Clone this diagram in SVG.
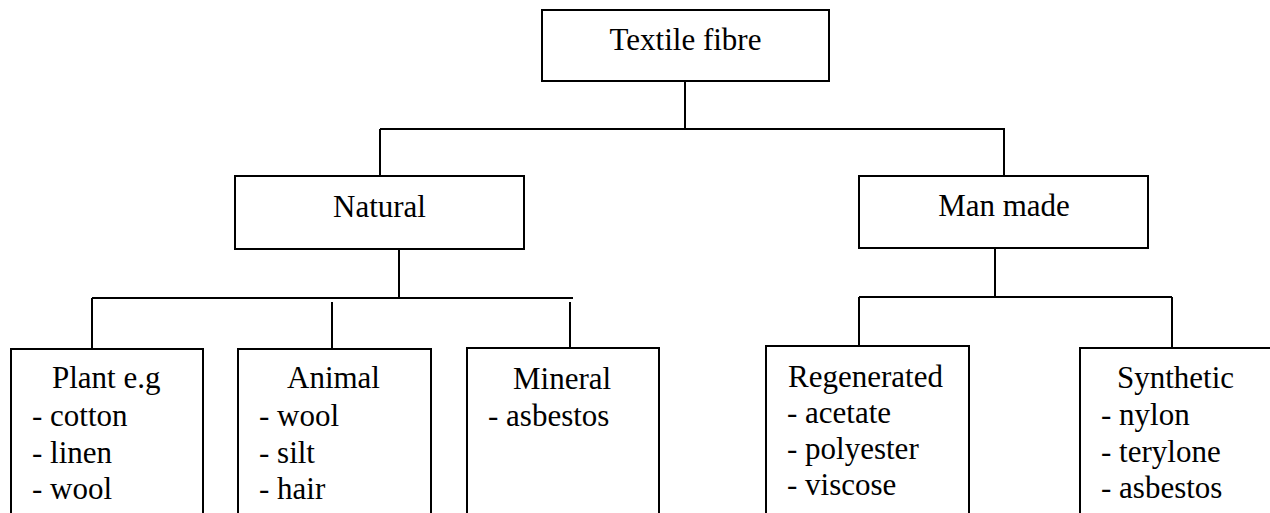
<svg xmlns="http://www.w3.org/2000/svg" width="1270" height="513" viewBox="0 0 1270 513">
<style>
.box{fill:#fff;stroke:#000;stroke-width:2}
.ln{stroke:#000;stroke-width:2;fill:none}
text{font-family:"Liberation Serif","Times New Roman",serif;font-size:31px;fill:#000}
</style>
<rect width="1270" height="513" fill="#fff"/>
<g id="connectors">
<path class="ln" d="M685 81V129M380 129H1005M380 129V176M1004 129V176"/>
<path class="ln" d="M399 249V298M92 298H573M92 298V349M332 302V349M570 302V348"/>
<path class="ln" d="M995 248V297M859 297H1172M859 297V346M1172 297V348"/>
</g>
<g id="textile">
<rect class="box" x="542" y="10" width="287" height="71"/>
<text x="685.5" y="50" text-anchor="middle">Textile fibre</text>
</g>
<g id="natural">
<rect class="box" x="235" y="176" width="289" height="73"/>
<text x="379.5" y="217" text-anchor="middle">Natural</text>
</g>
<g id="manmade">
<rect class="box" x="859" y="176" width="289" height="72"/>
<text x="1004" y="216" text-anchor="middle">Man made</text>
</g>
<g id="plant">
<rect class="box" x="11" y="349" width="192" height="175"/>
<text x="52" y="388">Plant e.g</text>
<text x="32" y="426">- cotton</text>
<text x="32" y="463">- linen</text>
<text x="32" y="499">- wool</text>
</g>
<g id="animal">
<rect class="box" x="238" y="349" width="193" height="175"/>
<text x="287" y="388">Animal</text>
<text x="259" y="426">- wool</text>
<text x="259" y="463">- silt</text>
<text x="259" y="499">- hair</text>
</g>
<g id="mineral">
<rect class="box" x="467" y="348" width="192" height="176"/>
<text x="513" y="389">Mineral</text>
<text x="488" y="426">- asbestos</text>
</g>
<g id="regenerated">
<rect class="box" x="766" y="346" width="203" height="178"/>
<text x="788" y="387">Regenerated</text>
<text x="787" y="423">- acetate</text>
<text x="787" y="459">- polyester</text>
<text x="787" y="495">- viscose</text>
</g>
<g id="synthetic">
<rect class="box" x="1080" y="348" width="200" height="176"/>
<text x="1117" y="388">Synthetic</text>
<text x="1101" y="425">- nylon</text>
<text x="1101" y="462">- terylone</text>
<text x="1101" y="498">- asbestos</text>
</g>
</svg>
